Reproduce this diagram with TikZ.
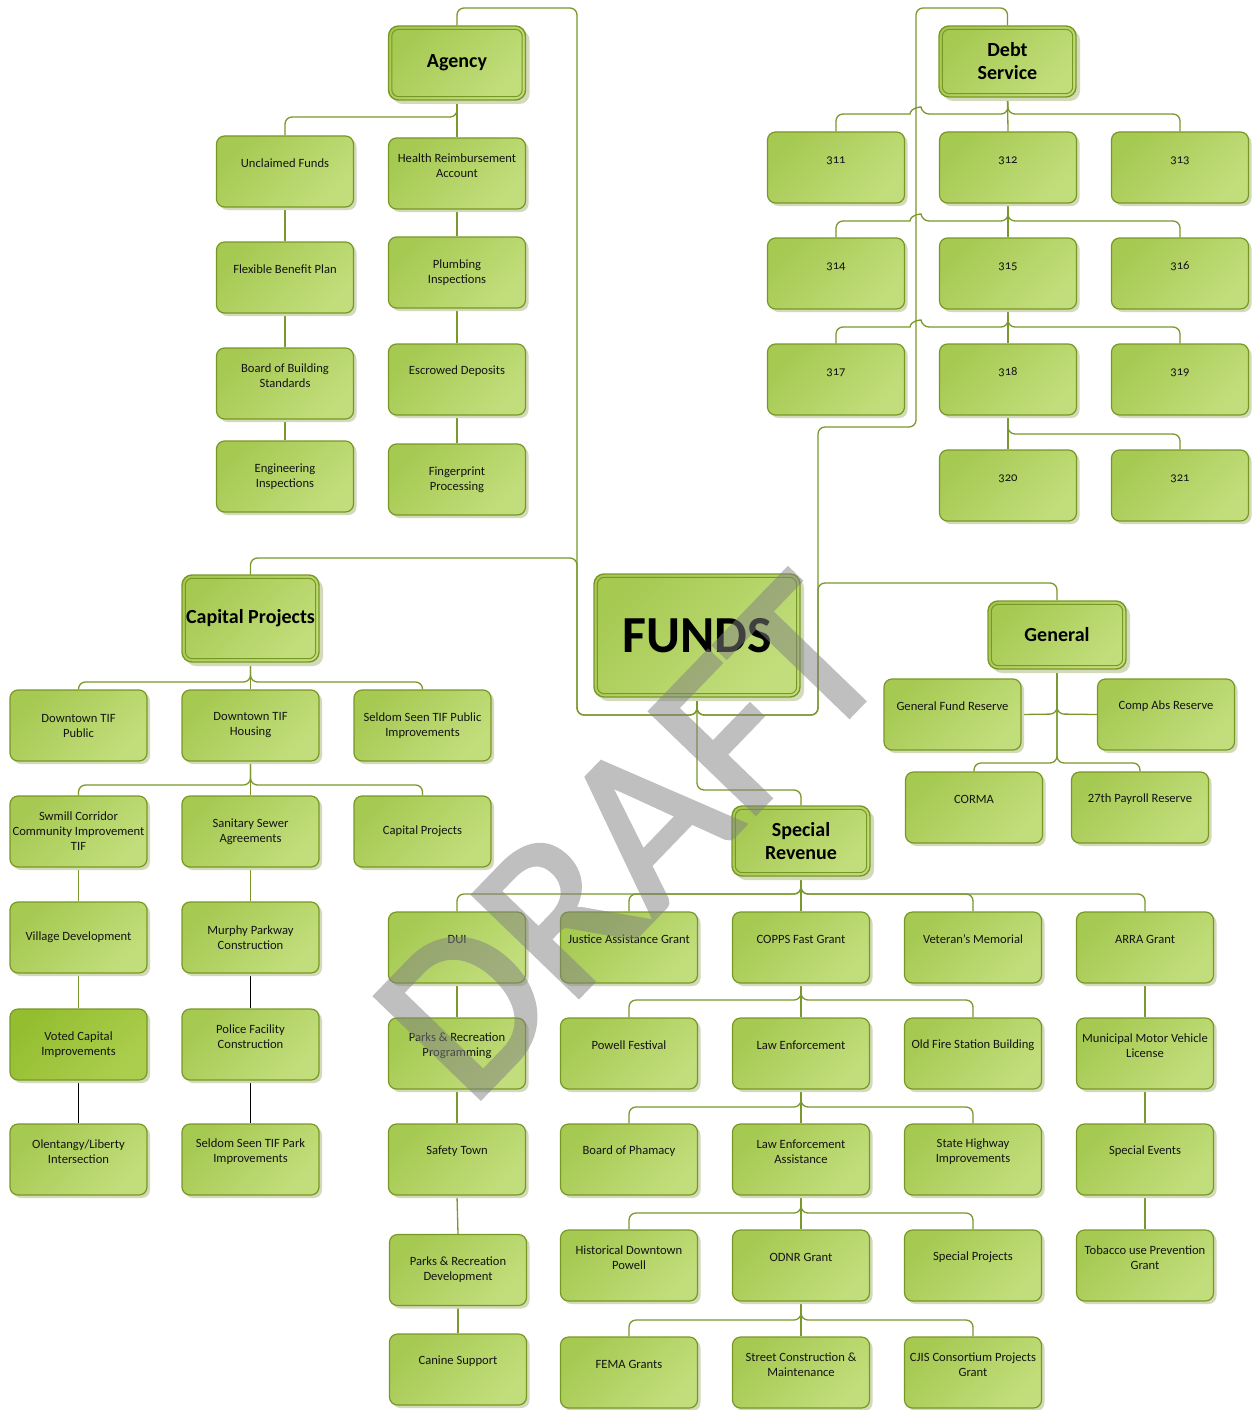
\documentclass[tikz,border=0pt]{standalone}
\usepackage{fontspec}
\setmainfont{Carlito}
\newfontfamily\oldnum[Numbers=OldStyle]{Carlito}
\newfontfamily\draftfont[FakeBold=2]{Carlito}
\usetikzlibrary{shadows}
\definecolor{lineG}{RGB}{122,152,44}
\definecolor{boxTL}{RGB}{166,201,82}
\definecolor{boxBR}{RGB}{194,222,124}
\definecolor{boxBorder}{RGB}{120,152,38}
\definecolor{shadowC}{RGB}{210,218,186}
\definecolor{votedTL}{RGB}{148,190,48}
\definecolor{votedBR}{RGB}{172,206,78}
\definecolor{txtC}{RGB}{20,20,20}
\pgfdeclarelayer{bg}
\pgfsetlayers{bg,main}
\tikzset{
  leaf/.style={rectangle, rounded corners=8pt, draw=boxBorder, line width=1.2pt,
    top color=boxTL, bottom color=boxBR, shading angle=45,
    minimum width=137pt, minimum height=71pt, inner sep=0pt,
    general shadow={fill=shadowC, shadow xshift=3pt, shadow yshift=-3pt}},
  voted/.style={leaf, top color=votedTL, bottom color=votedBR, shading angle=45},
  leaftxt/.style={inner sep=0pt, align=center, text=txtC, font=\fontsize{12.6}{15}\selectfont},
  rootshape/.style={rectangle, rounded corners=10pt, draw=boxBorder, line width=1.4pt,
    top color=boxTL, bottom color=boxBR, shading angle=45, inner sep=0pt,
    general shadow={fill=shadowC, shadow xshift=4pt, shadow yshift=-4pt}},
  rootinner/.style={draw=boxBorder, line width=1pt, rounded corners=7pt},
  roottxt/.style={inner sep=0pt, align=center, text=black, font=\bfseries\fontsize{20}{23}\selectfont},
  fundstxt/.style={inner sep=0pt, align=center, text=black, font=\bfseries\fontsize{52}{56}\selectfont},
  conn/.style={draw=lineG, line width=1.3pt, rounded corners=7pt},
  connk/.style={draw=black, line width=1.1pt},
  draftmark/.style={inner sep=0pt, text=gray, rotate=46,
    font=\draftfont\fontsize{228}{228}\selectfont}
}
\newcommand{\myleaf}[6][leaf]{%
  \node[#1] (#2) at (#3,#4) {};
  \node[leaftxt] (#2-t) at ([yshift=#5pt]#2.center) {#6};
}
\newcommand{\myroot}[7]{%
  \node[rootshape, minimum width=#4pt, minimum height=#5pt] (#1) at (#2,#3) {};
  \draw[rootinner] ([shift={(4,4)}]#1.north west) rectangle ([shift={(-4,-4)}]#1.south east);
  \node[#6] (#1-t) at (#1.center) {#7};
}
\begin{document}
\begin{tikzpicture}[x=1pt,y=-1pt]
\useasboundingbox (0,0) rectangle (1252,1410);

% ---------- root boxes ----------
\myroot{funds}{697}{635.5}{206}{123}{fundstxt}{FUNDS}
\myroot{ag}{457}{63}{137}{74}{roottxt}{Agency}
\myroot{ds}{1007.5}{61.5}{137}{71}{roottxt}{Debt\\Service}
\myroot{cp}{250.5}{618.5}{137}{87}{roottxt}{Capital Projects}
\myroot{gen}{1057}{635}{138}{68}{roottxt}{General}
\myroot{sr}{801}{841}{138}{70}{roottxt}{Special\\Revenue}

% ---------- Agency ----------
\myleaf{uf}{285}{171.5}{8}{Unclaimed Funds}
\myleaf{fbp}{285}{277.5}{8}{Flexible Benefit Plan}
\myleaf{bbs}{285}{383.5}{8}{Board of Building\\Standards}
\myleaf{eng}{285}{476.5}{0}{Engineering\\Inspections}
\myleaf{hra}{457}{173.5}{8}{Health Reimbursement\\Account}
\myleaf{plb}{457}{272.5}{0}{Plumbing\\Inspections}
\myleaf{esc}{457}{379.5}{8}{Escrowed Deposits}
\myleaf{fpp}{457}{479.5}{0}{Fingerprint\\Processing}

% ---------- Debt Service ----------
\myleaf{d311}{836}{167.5}{7}{\oldnum 311}
\myleaf{d312}{1008}{167.5}{7}{\oldnum 312}
\myleaf{d313}{1180}{167.5}{7}{\oldnum 313}
\myleaf{d314}{836}{273.5}{7}{\oldnum 314}
\myleaf{d315}{1008}{273.5}{7}{\oldnum 315}
\myleaf{d316}{1180}{273.5}{7}{\oldnum 316}
\myleaf{d317}{836}{379.5}{7}{\oldnum 317}
\myleaf{d318}{1008}{379.5}{7}{\oldnum 318}
\myleaf{d319}{1180}{379.5}{7}{\oldnum 319}
\myleaf{d320}{1008}{485.5}{7}{\oldnum 320}
\myleaf{d321}{1180}{485.5}{7}{\oldnum 321}

% ---------- Capital Projects ----------
\myleaf{dtp}{78.5}{725.5}{0}{Downtown TIF\\Public}
\myleaf{dth}{250.5}{725.5}{0}{Downtown TIF\\Housing}
\myleaf{sstp}{422.5}{725.5}{0}{Seldom Seen TIF Public\\Improvements}
\myleaf{swm}{78.5}{831.5}{0}{Swmill Corridor\\Community Improvement\\TIF}
\myleaf{sse}{250.5}{831.5}{0}{Sanitary Sewer\\Agreements}
\myleaf{cpp}{422.5}{831.5}{0}{Capital Projects}
\myleaf{vil}{78.5}{937.5}{0}{Village Development}
\myleaf{mur}{250.5}{937.5}{0}{Murphy Parkway\\Construction}
\myleaf[voted]{vci}{78.5}{1044.5}{0}{Voted Capital\\Improvements}
\myleaf{pfc}{250.5}{1044.5}{8}{Police Facility\\Construction}
\myleaf{oli}{78.5}{1159.5}{8}{Olentangy/Liberty\\Intersection}
\myleaf{sspk}{250.5}{1159.5}{8}{Seldom Seen TIF Park\\Improvements}

% ---------- General ----------
\myleaf{gfr}{952.5}{714.5}{8}{General Fund Reserve}
\myleaf{car}{1166}{714.5}{8}{Comp Abs Reserve}
\myleaf{corma}{974}{807.5}{8}{CORMA}
\myleaf{pay}{1140}{807.5}{8}{27th Payroll Reserve}

% ---------- Special Revenue ----------
\myleaf{dui}{457}{947.5}{8}{DUI}
\myleaf{jag}{629}{947.5}{8}{Justice Assistance Grant}
\myleaf{cop}{801}{947.5}{8}{COPPS Fast Grant}
\myleaf{vet}{973}{947.5}{8}{Veteran’s Memorial}
\myleaf{arra}{1145}{947.5}{8}{ARRA Grant}
\myleaf{prp}{457}{1053.5}{8}{Parks \& Recreation\\Programming}
\myleaf{pwf}{629}{1053.5}{8}{Powell Festival}
\myleaf{lae}{801}{1053.5}{8}{Law Enforcement}
\myleaf{ofs}{973}{1053.5}{8}{Old Fire Station Building}
\myleaf{mmv}{1145}{1053.5}{8}{Municipal Motor Vehicle\\License}
\myleaf{sft}{457}{1159.5}{8}{Safety Town}
\myleaf{bop}{629}{1159.5}{8}{Board of Phamacy}
\myleaf{lea}{801}{1159.5}{8}{Law Enforcement\\Assistance}
\myleaf{shi}{973}{1159.5}{8}{State Highway\\Improvements}
\myleaf{spe}{1145}{1159.5}{8}{Special Events}
\myleaf{prd}{458}{1270}{0}{Parks \& Recreation\\Development}
\myleaf{hdp}{629}{1265.5}{8}{Historical Downtown\\Powell}
\myleaf{odnr}{801}{1265.5}{8}{ODNR Grant}
\myleaf{spp}{973}{1265.5}{8}{Special Projects}
\myleaf{tob}{1145}{1265.5}{8}{Tobacco use Prevention\\Grant}
\myleaf{can}{458}{1369.5}{8}{Canine Support}
\myleaf{fema}{629}{1372.5}{8}{FEMA Grants}
\myleaf{scm}{801}{1372.5}{8}{Street Construction \&\\Maintenance}
\myleaf{cjis}{973}{1372.5}{8}{CJIS Consortium Projects\\Grant}

% ---------- background and connectors ----------
\begin{pgfonlayer}{bg}
\fill[white] (0,0) rectangle (1252,1410);
% FUNDS to the five groups
\draw[conn] (funds.south) -- (697,715) -- (577,715) -- (577,8) -- (457,8) -- (ag.north);
\draw[conn] (funds.south) -- (697,715) -- (577,715) -- (577,558) -- (250.5,558) -- (cp.north);
\draw[conn] (funds.south) -- (697,715) -- (818,715) -- (818,427) -- (916,427) -- (916,8) -- (1007.5,8) -- (ds.north);
\draw[conn] (funds.south) -- (697,715) -- (818,715) -- (818,583) -- (1057,583) -- (gen.north);
\draw[conn] (funds.south) -- (697,790) -- (801,790) -- (sr.north);

% Agency
\draw[conn] (ag.south) -- (457,117) -- (285,117) -- (uf.north);
\draw[conn] (ag.south) -- (hra.north);
\draw[conn] (uf.south) -- (fbp.north);
\draw[conn] (fbp.south) -- (bbs.north);
\draw[conn] (bbs.south) -- (eng.north);
\draw[conn] (hra.south) -- (plb.north);
\draw[conn] (plb.south) -- (esc.north);
\draw[conn] (esc.south) -- (fpp.north);

% Debt Service (with hops over the x=916 line)
\draw[conn] (ds.south) -- (1008,114) -- (922,114) [sharp corners] .. controls (921,107) and (911,107) .. (910,114) [rounded corners=7pt] -- (836,114) -- (d311.north);
\draw[conn] (ds.south) -- (d312.north);
\draw[conn] (ds.south) -- (1008,114) -- (1180,114) -- (d313.north);
\draw[conn] (d312.south) -- (1008,221) -- (922,221) [sharp corners] .. controls (921,214) and (911,214) .. (910,221) [rounded corners=7pt] -- (836,221) -- (d314.north);
\draw[conn] (d312.south) -- (d315.north);
\draw[conn] (d312.south) -- (1008,221) -- (1180,221) -- (d316.north);
\draw[conn] (d315.south) -- (1008,327) -- (922,327) [sharp corners] .. controls (921,320) and (911,320) .. (910,327) [rounded corners=7pt] -- (836,327) -- (d317.north);
\draw[conn] (d315.south) -- (d318.north);
\draw[conn] (d315.south) -- (1008,327) -- (1180,327) -- (d319.north);
\draw[conn] (d318.south) -- (d320.north);
\draw[conn] (d318.south) -- (1008,434) -- (1180,434) -- (d321.north);

% Capital Projects
\draw[conn] (cp.south) -- (250.5,682) -- (78.5,682) -- (dtp.north);
\draw[conn] (cp.south) -- (dth.north);
\draw[conn] (cp.south) -- (250.5,682) -- (422.5,682) -- (sstp.north);
\draw[conn] (dth.south) -- (250.5,785) -- (78.5,785) -- (swm.north);
\draw[conn] (dth.south) -- (sse.north);
\draw[conn] (dth.south) -- (250.5,785) -- (422.5,785) -- (cpp.north);
\draw[conn] (swm.south) -- (vil.north);
\draw[conn] (vil.south) -- (vci.north);
\draw[connk] (vci.south) -- (oli.north);
\draw[conn] (sse.south) -- (mur.north);
\draw[connk] (mur.south) -- (pfc.north);
\draw[connk] (pfc.south) -- (sspk.north);

% General
\draw[conn] (gen.south) -- (1057,714) -- (gfr.east);
\draw[conn] (gen.south) -- (1057,714) -- (car.west);
\draw[conn] (gen.south) -- (1057,763) -- (974,763) -- (corma.north);
\draw[conn] (gen.south) -- (1057,763) -- (1140,763) -- (pay.north);

% Special Revenue
\draw[conn] (sr.south) -- (801,894) -- (457,894) -- (dui.north);
\draw[conn] (sr.south) -- (801,894) -- (629,894) -- (jag.north);
\draw[conn] (sr.south) -- (cop.north);
\draw[conn] (sr.south) -- (801,894) -- (973,894) -- (vet.north);
\draw[conn] (sr.south) -- (801,894) -- (1145,894) -- (arra.north);
\draw[conn] (cop.south) -- (801,1000) -- (629,1000) -- (pwf.north);
\draw[conn] (cop.south) -- (lae.north);
\draw[conn] (cop.south) -- (801,1000) -- (973,1000) -- (ofs.north);
\draw[conn] (lae.south) -- (801,1107) -- (629,1107) -- (bop.north);
\draw[conn] (lae.south) -- (lea.north);
\draw[conn] (lae.south) -- (801,1107) -- (973,1107) -- (shi.north);
\draw[conn] (lea.south) -- (801,1213) -- (629,1213) -- (hdp.north);
\draw[conn] (lea.south) -- (odnr.north);
\draw[conn] (lea.south) -- (801,1213) -- (973,1213) -- (spp.north);
\draw[conn] (odnr.south) -- (801,1320) -- (629,1320) -- (fema.north);
\draw[conn] (odnr.south) -- (scm.north);
\draw[conn] (odnr.south) -- (801,1320) -- (973,1320) -- (cjis.north);
\draw[conn] (dui.south) -- (prp.north);
\draw[conn] (prp.south) -- (sft.north);
\draw[conn] (sft.south) -- (prd.north);
\draw[conn] (prd.south) -- (can.north);
\draw[conn] (arra.south) -- (mmv.north);
\draw[conn] (mmv.south) -- (spe.north);
\draw[conn] (spe.south) -- (tob.north);
\end{pgfonlayer}

% ---------- watermark ----------
\begin{scope}[transparency group, opacity=0.5]
\node[draftmark] (draft) at (630,838) {DRAFT};
\end{scope}
\end{tikzpicture}
\end{document}
